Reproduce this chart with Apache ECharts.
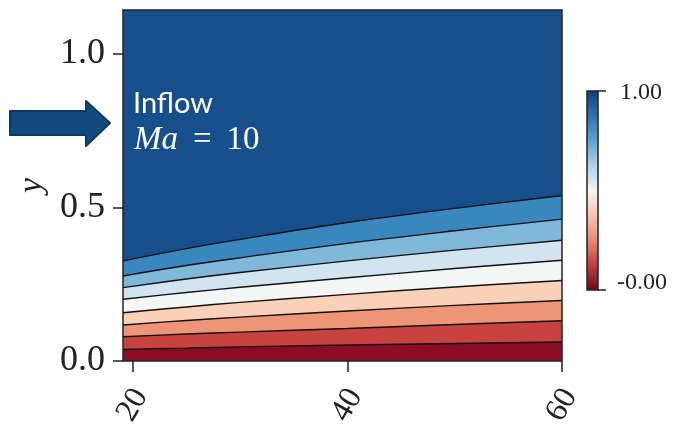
<!DOCTYPE html>
<html><head><meta charset="utf-8">
<script src="https://cdn.jsdelivr.net/npm/echarts@6/dist/echarts.min.js"></script>
<style>html,body{margin:0;padding:0;background:#fff}#c{width:675px;height:424px}</style>
</head><body><div id="c"></div>
<script>
// x positions along the plate
const xs = [19.1, 25, 30, 40, 50, 60];
// contour lines (lowest level first), y values at xs
const c1 = [0.038, 0.042, 0.046, 0.052, 0.057, 0.062];
const c2 = [0.079, 0.088, 0.094, 0.106, 0.119, 0.131];
const c3 = [0.117, 0.132, 0.143, 0.163, 0.181, 0.197];
const c4 = [0.157, 0.176, 0.191, 0.217, 0.241, 0.262];
const c5 = [0.201, 0.223, 0.240, 0.271, 0.301, 0.328];
const c6 = [0.239, 0.267, 0.288, 0.326, 0.361, 0.393];
const c7 = [0.277, 0.311, 0.336, 0.383, 0.424, 0.462];
const c8 = [0.326, 0.366, 0.396, 0.451, 0.497, 0.539];
const yMax = 1.143;
const topEdge = [1.143, 1.143, 1.143, 1.143, 1.143, 1.143];
// band colours (bottom to top)
const bandColors = ['#8c0c25', '#c8433f', '#ee9577', '#fbd0b9', '#f4f5f5', '#d1e4f0', '#80b8da', '#3a86be', '#164f8c'];
const xTicks = [20, 40, 60];
const yTicks = [0, 0.5, 1.0];
const cbLabels = ['1.00', '-0.00'];

// each series fills from its curve down to y = 0 with the colour of the band just below it;
// drawn top level first so the lower ones paint over
const levels = [c1, c2, c3, c4, c5, c6, c7, c8, topEdge];
const series = [];
for (let k = levels.length - 1; k >= 0; k--) {
  series.push({
    type: 'line', symbol: 'none', smooth: 0.4,
    data: xs.map((x, i) => [x, levels[k][i]]),
    areaStyle: { color: bandColors[k], opacity: 1, origin: 'start' },
    lineStyle: k < 8 ? { color: '#111', width: 1.4 } : { width: 0, opacity: 0 },
    silent: true
  });
}

const serif = 'Liberation Serif';
const chart = echarts.init(document.getElementById('c'), null, { renderer: 'canvas' });
chart.setOption({
  animation: false,
  backgroundColor: '#fff',
  grid: { left: 123, right: 113, top: 10, bottom: 63, containLabel: false, outerBoundsMode: 'none' },
  xAxis: [{
    type: 'value', min: 19.1, max: 60, z: 30,
    axisLine: { show: true, lineStyle: { color: '#222', width: 1.5 } },
    axisTick: { show: true, length: 11, lineStyle: { color: '#222', width: 1.5 }, customValues: xTicks },
    axisLabel: { customValues: xTicks, rotate: 60, margin: 44, align: 'center', verticalAlign: 'middle',
                 fontFamily: serif, fontSize: 32, color: '#222' },
    splitLine: { show: false }
  }, {
    type: 'value', position: 'top', min: 19.1, max: 60, z: 30,
    axisLine: { show: true, onZero: false, lineStyle: { color: '#222', width: 1.5 } },
    axisTick: { show: false }, axisLabel: { show: false }, splitLine: { show: false }
  }],
  yAxis: [{
    type: 'value', min: 0, max: yMax, z: 30,
    name: 'y', nameLocation: 'middle', nameRotate: 90, nameGap: 72,
    nameTextStyle: { fontFamily: serif, fontStyle: 'italic', fontSize: 34, color: '#222' },
    axisLine: { show: true, onZero: false, lineStyle: { color: '#222', width: 1.5 } },
    axisTick: { show: true, length: 10, lineStyle: { color: '#222', width: 1.5 }, customValues: yTicks },
    axisLabel: { customValues: yTicks, formatter: v => v.toFixed(1), margin: 18, fontFamily: serif, fontSize: 36, color: '#222' },
    splitLine: { show: false }
  }, {
    type: 'value', position: 'right', min: 0, max: yMax, z: 30,
    axisLine: { show: true, onZero: false, lineStyle: { color: '#222', width: 1.5 } },
    axisTick: { show: false }, axisLabel: { show: false }, splitLine: { show: false }
  }],
  series: series,
  graphic: [
    // inflow arrow
    { type: 'polygon', z: 50,
      shape: { points: [[10,111],[86,111],[86,101],[110,123],[86,146],[86,135],[10,135]] },
      style: { fill: '#134a7e', stroke: '#0c3863', lineWidth: 2, lineJoin: 'round' } },
    { type: 'text', z: 50, left: 133, top: 89,
      style: { text: 'Inflow', fill: '#fff', font: '29px Lato' } },
    { type: 'text', z: 50, left: 134, top: 124,
      style: { text: '{i|Ma}{n|=}{n|10}', fill: '#fff',
        rich: { i: { fontFamily: serif, fontStyle: 'italic', fontSize: 33, fill: '#fff', color: '#fff' },
                n: { fontFamily: serif, fontSize: 33, fill: '#fff', color: '#fff', padding: [0, 0, 0, 15] } } } },
    // colorbar
    { type: 'rect', z: 50,
      shape: { x: 587, y: 91, width: 11, height: 199 },
      style: { fill: new echarts.graphic.LinearGradient(0, 0, 0, 1, [
        { offset: 0, color: '#123e78' }, { offset: 0.12, color: '#2a6fb0' }, { offset: 0.25, color: '#5fa3cf' },
        { offset: 0.38, color: '#afd2e7' }, { offset: 0.5, color: '#f5f5f5' }, { offset: 0.62, color: '#f9c6ae' },
        { offset: 0.75, color: '#e88a6e' }, { offset: 0.88, color: '#c0383a' }, { offset: 1, color: '#6e0420' }]),
        stroke: '#222', lineWidth: 1.5 } },
    { type: 'line', z: 50, shape: { x1: 598, y1: 91, x2: 606, y2: 91 }, style: { stroke: '#222', lineWidth: 1.5 } },
    { type: 'line', z: 50, shape: { x1: 598, y1: 290, x2: 606, y2: 290 }, style: { stroke: '#222', lineWidth: 1.5 } },
    { type: 'text', z: 50, left: 620, top: 81, style: { text: cbLabels[0], fill: '#222', font: '24px "Liberation Serif"' } },
    { type: 'text', z: 50, left: 617, top: 271, style: { text: cbLabels[1], fill: '#222', font: '24px "Liberation Serif"' } }
  ]
});
</script></body></html>
